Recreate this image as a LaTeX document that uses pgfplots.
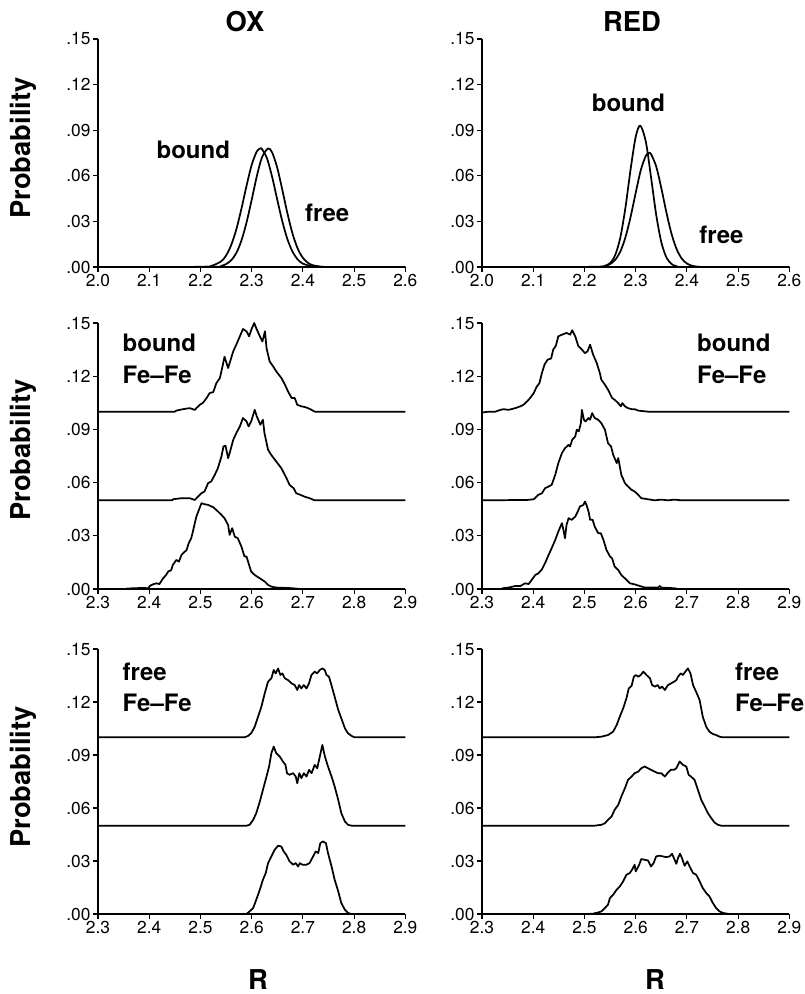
\documentclass[border=0pt]{standalone}
\usepackage{fontspec}
\setmainfont{TeX Gyre Heros}
\usepackage{pgfplots}
\pgfplotsset{compat=1.18}

\tikzset{
  lab/.style={font=\bfseries\fontsize{18}{18}\selectfont},
  big/.style={font=\bfseries\fontsize{20.5}{20.5}\selectfont},
  crv/.style={black, line width=1.3pt, mark=none, line join=round},
}
\pgfplotsset{
  panel/.style={
    scale only axis, anchor=south west,
    width=230.5pt,
    axis x line*=bottom, axis y line*=left,
    ymin=0, ymax=0.15,
    ytick={0,0.03,0.06,0.09,0.12,0.15},
    yticklabels={.00,.03,.06,.09,.12,.15},
    tick align=outside,
    major tick length=3.5pt,
    tick style={line width=0.9pt, black},
    axis line style={line width=0.9pt},
    every tick label/.append style={font=\fontsize{13}{13}\selectfont, inner sep=2pt},
    clip=false,
  },
  toprow/.style={panel, xmin=2.0, xmax=2.6,
    xtick={2.0,2.1,2.2,2.3,2.4,2.5,2.6},
    xticklabels={2.0,2.1,2.2,2.3,2.4,2.5,2.6}},
  lowrow/.style={panel, xmin=2.3, xmax=2.9,
    xtick={2.3,2.4,2.5,2.6,2.7,2.8,2.9},
    xticklabels={2.3,2.4,2.5,2.6,2.7,2.8,2.9}},
}

\begin{document}
\begin{tikzpicture}
\useasboundingbox (0,0) rectangle (603pt,745.5pt);

\node[big] at (183.75pt,729pt) {OX};
\node[big] at (474pt,729pt) {RED};
\node[big] at (193.5pt,10.5pt) {R};
\node[big] at (491.25pt,10.5pt) {R};
\node[big, rotate=90] at (17.25pt,634.5pt) {Probability};
\node[big, rotate=90] at (17.25pt,408pt) {Probability};
\node[big, rotate=90] at (17.25pt,162.75pt) {Probability};

% ---------- top left: OX ----------
\begin{axis}[toprow, at={(73.5pt,545.25pt)}, height=171pt]
\addplot[crv, smooth] table {
2.00 0
2.20 0.0001
2.22 0.0006
2.24 0.0036
2.25 0.0075
2.26 0.0144
2.27 0.0247
2.28 0.0383
2.29 0.0534
2.30 0.0671
2.31 0.0760
2.317 0.0780
2.32 0.0776
2.33 0.0714
2.34 0.0592
2.35 0.0442
2.36 0.0298
2.37 0.0181
2.38 0.0099
2.39 0.0049
2.40 0.0022
2.42 0.0003
2.44 0
2.60 0
};
\addplot[crv, smooth] table {
2.00 0
2.22 0.0001
2.24 0.0007
2.25 0.0019
2.26 0.0044
2.27 0.0092
2.28 0.0174
2.29 0.0293
2.30 0.0441
2.31 0.0596
2.32 0.0720
2.332 0.0780
2.34 0.0753
2.35 0.0652
2.36 0.0505
2.37 0.0350
2.38 0.0217
2.39 0.0120
2.40 0.0060
2.41 0.0027
2.42 0.0011
2.44 0.0001
2.46 0
2.60 0
};
\node[lab] at (axis cs:2.186,0.077) {bound};
\node[lab] at (axis cs:2.4475,0.0355) {free};
\end{axis}

% ---------- top right: RED ----------
\begin{axis}[toprow, at={(361.5pt,545.25pt)}, height=171pt]
\addplot[crv, smooth] table {
2.00 0
2.21 0
2.23 0.0002
2.24 0.0007
2.25 0.0026
2.26 0.0078
2.27 0.0193
2.28 0.0390
2.29 0.0640
2.30 0.0855
2.309 0.0930
2.32 0.0821
2.33 0.0590
2.34 0.0345
2.35 0.0164
2.36 0.0063
2.37 0.0020
2.38 0.0005
2.40 0
2.60 0
};
\addplot[crv, smooth] table {
2.00 0
2.22 0.0001
2.24 0.0007
2.25 0.0019
2.26 0.0047
2.27 0.0101
2.28 0.0195
2.29 0.0328
2.30 0.0487
2.31 0.0637
2.32 0.0733
2.326 0.0750
2.33 0.0742
2.34 0.0662
2.35 0.0520
2.36 0.0359
2.37 0.0218
2.38 0.0117
2.39 0.0055
2.40 0.0023
2.41 0.0008
2.42 0.0003
2.44 0
2.60 0
};
\node[lab] at (axis cs:2.286,0.108) {bound};
\node[lab] at (axis cs:2.4676,0.021) {free};
\end{axis}

% ---------- middle left: OX bound Fe-Fe ----------
\begin{axis}[lowrow, at={(73.5pt,303.75pt)}, height=199.5pt]
\addplot[crv] table {
2.30 0.100
2.45 0.100
2.453 0.1006
2.466 0.1014
2.479 0.1020
2.489 0.1010
2.492 0.1020
2.499 0.1039
2.505 0.1050
2.512 0.1077
2.518 0.1105
2.525 0.1110
2.531 0.1160
2.538 0.1190
2.543 0.1255
2.547 0.1310
2.554 0.1246
2.557 0.1274
2.564 0.1340
2.570 0.1378
2.577 0.1425
2.583 0.1466
2.590 0.1453
2.595 0.1425
2.599 0.1460
2.605 0.1500
2.609 0.1470
2.616 0.1425
2.621 0.1396
2.626 0.1453
2.629 0.1359
2.635 0.1284
2.642 0.1255
2.648 0.1227
2.658 0.1190
2.665 0.1152
2.671 0.1114
2.678 0.1077
2.684 0.1077
2.689 0.1039
2.697 0.1030
2.704 0.1026
2.710 0.1020
2.717 0.1010
2.723 0.1000
2.90 0.1000
};
\addplot[crv] table {
2.30 0.050
2.445 0.050
2.4465 0.0506
2.463 0.0512
2.479 0.0512
2.489 0.0502
2.495 0.0520
2.502 0.0540
2.508 0.0550
2.515 0.0597
2.521 0.0606
2.528 0.0644
2.534 0.0681
2.541 0.0747
2.545 0.0804
2.549 0.0808
2.554 0.0738
2.557 0.0766
2.564 0.0841
2.570 0.0879
2.577 0.0917
2.583 0.0964
2.590 0.0945
2.594 0.0917
2.599 0.0945
2.606 0.1010
2.610 0.0973
2.617 0.0926
2.622 0.0954
2.625 0.0879
2.632 0.0785
2.638 0.0757
2.648 0.0719
2.658 0.0681
2.668 0.0625
2.674 0.0587
2.682 0.0568
2.687 0.0540
2.695 0.0531
2.704 0.0520
2.713 0.0512
2.723 0.0500
2.90 0.0500
};
\addplot[crv] table {
2.355 0.0002
2.368 0.0004
2.388 0.0006
2.398 0.0004
2.401 0.0017
2.407 0.0026
2.414 0.0032
2.420 0.0028
2.427 0.0060
2.433 0.0079
2.437 0.0098
2.443 0.0107
2.446 0.0135
2.453 0.0164
2.458 0.0154
2.463 0.0192
2.466 0.0201
2.473 0.0220
2.477 0.0258
2.482 0.0286
2.486 0.0333
2.489 0.0371
2.492 0.0408
2.497 0.0446
2.502 0.0484
2.508 0.0478
2.515 0.0474
2.525 0.0461
2.531 0.0446
2.541 0.0418
2.547 0.0399
2.554 0.0361
2.557 0.0305
2.562 0.0343
2.567 0.0295
2.573 0.0286
2.580 0.0239
2.586 0.0183
2.590 0.0183
2.593 0.0154
2.599 0.0098
2.606 0.0079
2.616 0.0060
2.626 0.0041
2.632 0.0023
2.639 0.0013
2.648 0.0008
2.668 0.0006
2.681 0.0004
2.694 0
};
\node[lab, anchor=west] at (axis cs:2.339,0.1387) {bound};
\node[lab, anchor=west] at (axis cs:2.339,0.1207) {Fe--Fe};
\end{axis}

% ---------- middle right: RED bound Fe-Fe ----------
\begin{axis}[lowrow, at={(361.5pt,303.75pt)}, height=199.5pt]
\addplot[crv] table {
2.300 0.0995
2.313 0.1000
2.326 0.1000
2.336 0.1010
2.342 0.1014
2.352 0.1010
2.365 0.1020
2.375 0.1030
2.381 0.1039
2.388 0.1058
2.394 0.1077
2.401 0.1105
2.407 0.1142
2.412 0.1160
2.417 0.1218
2.422 0.1265
2.428 0.1293
2.435 0.1300
2.439 0.1350
2.444 0.1370
2.449 0.1425
2.456 0.1434
2.465 0.1444
2.472 0.1434
2.476 0.1459
2.482 0.1425
2.488 0.1370
2.495 0.1350
2.501 0.1330
2.506 0.1340
2.511 0.1378
2.517 0.1321
2.524 0.1274
2.530 0.1218
2.533 0.1180
2.540 0.1152
2.546 0.1124
2.554 0.1077
2.559 0.1067
2.566 0.1048
2.571 0.1030
2.574 0.1048
2.579 0.1030
2.585 0.1020
2.592 0.1014
2.598 0.1014
2.605 0.1006
2.611 0.1004
2.624 0.1000
2.90 0.1000
};
\addplot[crv] table {
2.300 0.0500
2.388 0.0502
2.401 0.0506
2.410 0.0531
2.417 0.0540
2.423 0.0568
2.430 0.0578
2.436 0.0587
2.443 0.0644
2.449 0.0710
2.456 0.0766
2.462 0.0794
2.469 0.0813
2.472 0.0804
2.476 0.0841
2.482 0.0860
2.485 0.0898
2.489 0.0889
2.493 0.0935
2.495 0.1010
2.499 0.0954
2.502 0.0945
2.508 0.0964
2.511 0.0954
2.515 0.0992
2.520 0.0964
2.527 0.0954
2.533 0.0935
2.540 0.0898
2.546 0.0822
2.552 0.0804
2.556 0.0757
2.563 0.0710
2.566 0.0738
2.572 0.0644
2.579 0.0597
2.585 0.0578
2.592 0.0559
2.598 0.0550
2.605 0.0531
2.611 0.0512
2.624 0.0506
2.637 0.0500
2.650 0.0504
2.663 0.0500
2.676 0.0504
2.689 0.0500
2.90 0.0500
};
\addplot[crv] table {
2.339 0.0004
2.352 0.0008
2.365 0.0017
2.375 0.0017
2.384 0.0032
2.391 0.0028
2.397 0.0051
2.404 0.0079
2.410 0.0088
2.417 0.0111
2.423 0.0145
2.430 0.0192
2.436 0.0230
2.443 0.0277
2.449 0.0324
2.456 0.0371
2.459 0.0333
2.462 0.0286
2.465 0.0361
2.469 0.0399
2.475 0.0390
2.482 0.0408
2.487 0.0437
2.491 0.0465
2.498 0.0474
2.501 0.0493
2.504 0.0474
2.508 0.0437
2.511 0.0390
2.516 0.0390
2.520 0.0352
2.527 0.0314
2.532 0.0314
2.537 0.0277
2.543 0.0220
2.550 0.0183
2.554 0.0173
2.559 0.0126
2.566 0.0107
2.572 0.0079
2.579 0.0060
2.589 0.0032
2.598 0.0026
2.608 0.0017
2.618 0.0008
2.644 0.0008
2.647 0.0017
2.650 0.0008
2.676 0.0004
2.683 0
};
\node[lab, anchor=west] at (axis cs:2.711,0.1387) {bound};
\node[lab, anchor=west] at (axis cs:2.711,0.1207) {Fe--Fe};
\end{axis}

% ---------- bottom left: OX free Fe-Fe ----------
\begin{axis}[lowrow, at={(73.5pt,60pt)}, height=198.75pt]
\addplot[crv] table {
2.300 0.1000
2.586 0.1000
2.593 0.1008
2.599 0.1023
2.606 0.1060
2.6125 0.1117
2.619 0.1174
2.6255 0.1249
2.632 0.1315
2.6385 0.1334
2.643 0.1381
2.647 0.1362
2.6515 0.1390
2.656 0.1353
2.660 0.1362
2.6646 0.1334
2.671 0.1324
2.6776 0.1306
2.684 0.1296
2.689 0.1268
2.6926 0.1296
2.697 0.1277
2.7017 0.1296
2.707 0.1277
2.712 0.1306
2.7167 0.1353
2.723 0.1372
2.7277 0.1362
2.733 0.1381
2.738 0.1390
2.7427 0.1381
2.746 0.1353
2.751 0.1343
2.7557 0.1296
2.762 0.1230
2.769 0.1155
2.775 0.1108
2.782 0.1051
2.788 0.1023
2.795 0.1008
2.801 0.1000
2.900 0.1000
};
\addplot[crv] table {
2.300 0.0500
2.590 0.0500
2.596 0.0505
2.603 0.0533
2.609 0.0571
2.616 0.0637
2.622 0.0703
2.629 0.0778
2.634 0.0835
2.6385 0.0910
2.643 0.0948
2.648 0.0910
2.655 0.0891
2.661 0.0863
2.666 0.0844
2.669 0.0797
2.674 0.0788
2.681 0.0797
2.686 0.0778
2.689 0.0740
2.693 0.0797
2.697 0.0769
2.702 0.0797
2.707 0.0778
2.712 0.0816
2.717 0.0797
2.723 0.0844
2.728 0.0825
2.733 0.0891
2.738 0.0957
2.743 0.0891
2.749 0.0835
2.756 0.0778
2.762 0.0722
2.769 0.0646
2.775 0.0571
2.782 0.0524
2.788 0.0505
2.795 0.0500
2.900 0.0500
};
\addplot[crv] table {
2.590 0
2.596 0.0015
2.603 0.0034
2.609 0.0081
2.616 0.0138
2.622 0.0194
2.6275 0.0232
2.632 0.0288
2.6385 0.0326
2.645 0.0364
2.6515 0.0386
2.658 0.0382
2.6626 0.0354
2.6675 0.0335
2.674 0.0298
2.681 0.0279
2.686 0.0288
2.6906 0.0269
2.694 0.0288
2.699 0.0279
2.707 0.0279
2.713 0.0288
2.720 0.0326
2.725 0.0354
2.730 0.0345
2.734 0.0401
2.739 0.0411
2.745 0.0401
2.749 0.0345
2.756 0.0269
2.762 0.0194
2.769 0.0128
2.775 0.0062
2.782 0.0024
2.788 0.0006
2.795 0
};
\node[lab, anchor=west] at (axis cs:2.339,0.137) {free};
\node[lab, anchor=west] at (axis cs:2.339,0.1194) {Fe--Fe};
\end{axis}

% ---------- bottom right: RED free Fe-Fe ----------
\begin{axis}[lowrow, at={(361.5pt,60pt)}, height=198.75pt]
\addplot[crv] table {
2.300 0.1000
2.520 0.1000
2.5335 0.1004
2.546 0.1013
2.556 0.1032
2.563 0.1070
2.569 0.1117
2.5756 0.1164
2.582 0.1221
2.5866 0.1277
2.592 0.1291
2.5964 0.1343
2.6005 0.1353
2.605 0.1343
2.610 0.1353
2.615 0.1372
2.621 0.1353
2.628 0.1334
2.632 0.1296
2.6375 0.1287
2.643 0.1296
2.647 0.1277
2.6515 0.1287
2.657 0.1268
2.663 0.1296
2.6696 0.1306
2.675 0.1315
2.6794 0.1324
2.6826 0.1343
2.688 0.1362
2.6923 0.1353
2.697 0.1372
2.702 0.1390
2.707 0.1362
2.712 0.1296
2.718 0.1258
2.7248 0.1211
2.731 0.1117
2.7377 0.1060
2.744 0.1032
2.7507 0.1019
2.757 0.1013
2.7637 0.1004
2.770 0.1000
2.900 0.1000
};
\addplot[crv] table {
2.300 0.0500
2.520 0.0500
2.5335 0.0505
2.540 0.0514
2.546 0.0533
2.553 0.0552
2.559 0.0590
2.566 0.0618
2.572 0.0665
2.579 0.0712
2.585 0.0759
2.592 0.0778
2.598 0.0797
2.605 0.0806
2.611 0.0825
2.6175 0.0835
2.624 0.0825
2.630 0.0816
2.637 0.0806
2.6437 0.0797
2.650 0.0797
2.657 0.0778
2.662 0.0797
2.6684 0.0816
2.675 0.0816
2.6794 0.0825
2.6858 0.0863
2.6923 0.0844
2.6988 0.0835
2.7034 0.0788
2.708 0.0778
2.715 0.0759
2.7215 0.0703
2.728 0.0646
2.7345 0.0609
2.741 0.0571
2.7475 0.0543
2.754 0.0518
2.7604 0.0505
2.767 0.0500
2.900 0.0500
};
\addplot[crv] table {
2.5075 0
2.517 0.0002
2.527 0.0009
2.5335 0.0015
2.540 0.0034
2.546 0.0053
2.5497 0.0090
2.556 0.0109
2.563 0.0138
2.569 0.0156
2.5756 0.0185
2.582 0.0222
2.5886 0.0232
2.593 0.0251
2.598 0.0279
2.600 0.0241
2.606 0.0273
2.611 0.0311
2.6175 0.0307
2.624 0.0303
2.630 0.0269
2.635 0.0288
2.640 0.0326
2.6465 0.0330
2.653 0.0326
2.660 0.0322
2.6664 0.0326
2.671 0.0341
2.676 0.0307
2.6794 0.0284
2.6826 0.0317
2.6865 0.0341
2.6904 0.0317
2.6955 0.0273
2.7008 0.0298
2.7053 0.0269
2.712 0.0232
2.7183 0.0222
2.7248 0.0185
2.731 0.0147
2.7377 0.0119
2.744 0.0100
2.7507 0.0062
2.757 0.0034
2.7637 0.0015
2.770 0.0006
2.783 0
};
\node[lab, anchor=west] at (axis cs:2.785,0.137) {free};
\node[lab, anchor=west] at (axis cs:2.785,0.1194) {Fe--Fe};
\end{axis}
\end{tikzpicture}
\end{document}
